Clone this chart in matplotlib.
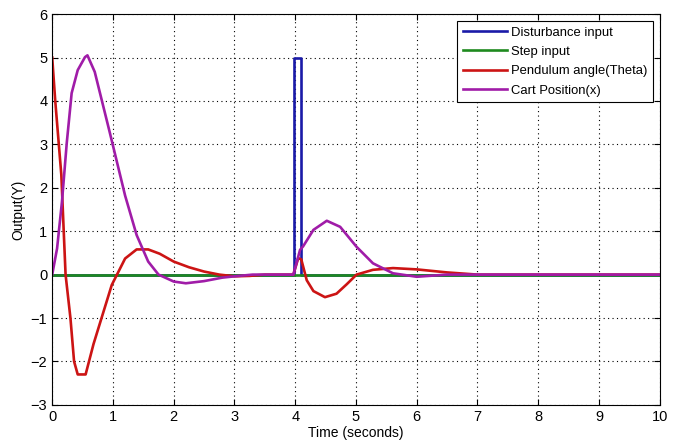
import matplotlib.pyplot as plt
import numpy as np

plt.rcParams['font.family'] = ['Liberation Sans', 'DejaVu Sans']

# disturbance input (pulse near t=4)
dist_t = [0, 3.98, 3.98, 4.1, 4.1, 10]
dist_y = [0, 0, 5, 5, 0, 0]

# step input
step_t = [0, 10]
step_y = [0, 0]

# pendulum angle (theta)
theta_t = [0, 0.05, 0.15, 0.22, 0.3, 0.36, 0.42, 0.55, 0.68, 0.98, 1.2, 1.39, 1.58,
           1.77, 2.0, 2.25, 2.5, 2.75, 3.0, 3.25, 3.5, 3.97, 4.05, 4.1, 4.19, 4.3,
           4.49, 4.68, 4.85, 5.01, 5.28, 5.61, 6.0, 6.5, 7.0, 10]
theta_y = [5.0, 4.0, 2.3, 0.0, -1.0, -2.0, -2.3, -2.3, -1.6, -0.24, 0.37, 0.58, 0.58,
           0.48, 0.3, 0.17, 0.07, 0.0, -0.04, -0.03, 0.0, 0.0, 0.38, 0.35, -0.13, -0.38,
           -0.52, -0.44, -0.22, 0.0, 0.11, 0.15, 0.12, 0.05, 0.0, 0.0]

# cart position (x)
cart_t = [0, 0.08, 0.16, 0.24, 0.32, 0.42, 0.54, 0.58, 0.7, 0.95, 1.2, 1.39, 1.58,
          1.75, 2.0, 2.2, 2.5, 2.8, 3.0, 3.3, 3.97, 4.08, 4.13, 4.3, 4.52, 4.74,
          5.01, 5.28, 5.61, 6.0, 6.5, 10]
cart_y = [0.0, 0.6, 1.67, 3.04, 4.18, 4.71, 5.01, 5.05, 4.67, 3.26, 1.82, 0.91, 0.3,
          0.0, -0.16, -0.2, -0.15, -0.07, -0.04, 0.0, 0.0, 0.57, 0.65, 1.03, 1.24, 1.1,
          0.64, 0.26, 0.03, -0.05, 0.0, 0.0]

fig = plt.figure(figsize=(6.78, 4.41), dpi=100)
ax = fig.add_axes([0.077, 0.082, 0.896, 0.886])

ax.plot(dist_t, dist_y, color='#1a1aa8', lw=1.9, label='Disturbance input')
ax.plot(step_t, step_y, color='#1e8a1e', lw=1.9, label='Step input')
ax.plot(theta_t, theta_y, color='#cc1414', lw=1.9, label='Pendulum angle(Theta)')
ax.plot(cart_t, cart_y, color='#a01ca8', lw=1.9, label='Cart Position(x)')

ax.set_xlim(0, 10)
ax.set_ylim(-3, 6)
ax.set_xticks(np.arange(0, 11, 1))
ax.set_yticks(np.arange(-3, 7, 1))
ax.grid(True, color='black', linestyle=(0, (1, 3)), linewidth=0.8)
ax.tick_params(direction='in', top=True, right=True, labelsize=10.5, length=4)
ax.set_xlabel('Time (seconds)', fontsize=10, labelpad=2)
ax.set_ylabel('Output(Y)', fontsize=10, labelpad=4)

leg = ax.legend(loc='upper right', fancybox=False, framealpha=1, edgecolor='black',
                fontsize=9.4, handlelength=3.4, borderaxespad=0.55, labelspacing=0.55,
                handletextpad=0.3)
leg.get_frame().set_linewidth(0.8)

fig.savefig('out.png', dpi=100)
